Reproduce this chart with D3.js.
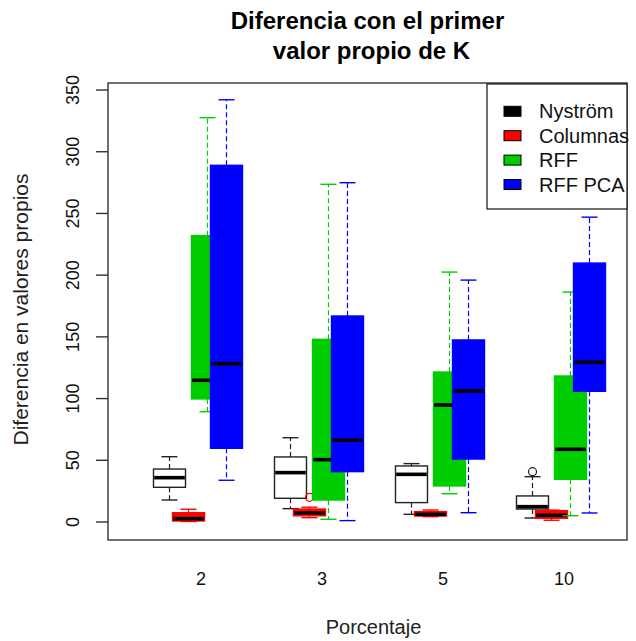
<!DOCTYPE html>
<html>
<head>
<meta charset="utf-8">
<script src="https://cdn.jsdelivr.net/npm/d3@7"></script>
<style>
  body { margin: 0; background: #fff; }
  svg { display: block; font-family: "Liberation Sans", Arial, sans-serif; }
</style>
</head>
<body>
<svg id="chart" width="636" height="641"></svg>
<script>
// Percentage groups on the x axis and the four methods compared in each
const groups = ["2", "3", "5", "10"];
const series = ["Nyström", "Columnas", "RFF", "RFF PCA"];

// Box summaries per group: [lower whisker, Q1, median, Q3, upper whisker]
const nystrom  = [[17.8, 28.1, 35.9, 42.9, 52.9], [10.8, 19.2, 40.0, 52.7, 68.3], [6.2, 15.7, 38.6, 45.4, 47.3], [3.2, 10.5, 12.4, 21.1, 36.7]];
const columnas = [[0.4, 0.8, 2.7, 7.5, 10.3], [3.5, 5.0, 7.3, 10.5, 12.0], [4.3, 4.9, 6.2, 8.4, 9.7], [1.4, 3.0, 5.4, 9.2, 9.6]];
const rff      = [[89.4, 99.7, 114.8, 232.0, 327.6], [2.2, 17.8, 50.5, 148.0, 273.6], [22.9, 29.2, 94.8, 121.5, 202.5], [5.1, 34.6, 58.9, 118.3, 186.3]];
const rffPca   = [[33.8, 59.7, 128.3, 289.0, 342.1], [1.1, 40.8, 66.2, 166.9, 274.9], [7.5, 51.0, 106.1, 147.5, 196.0], [7.3, 105.9, 129.4, 209.8, 247.0]];

// Outlying points per group
const outNystrom  = [[], [], [], [40.8]];
const outColumnas = [[], [20.0], [], []];
const outRff      = [[], [], [], []];
const outRffPca   = [[], [], [], []];

const yTicks = [0, 50, 100, 150, 200, 250, 300, 350];

const fills   = ["#ffffff", "#ff0000", "#00cd00", "#0000ff"];
const borders = ["#222222", "#ff0000", "#00cd00", "#0000ff"];
const legendFills = ["#000000", "#ff0000", "#00cd00", "#0000ff"];

const stats = [nystrom, columnas, rff, rffPca];
const outs  = [outNystrom, outColumnas, outRff, outRffPca];

const svg = d3.select("#chart");
const plot = { left: 108, right: 627, top: 83, bottom: 540 };

const y = d3.scaleLinear().domain([-14.6, 355.7]).range([plot.bottom, plot.top]);
const xGroup = d3.scalePoint().domain(groups).range([198, 561]);
const xInner = d3.scalePoint().domain(series).range([-28.5, 28.5]);
const boxW = 32, capW = 16;

// Boxes
const g = svg.append("g");
groups.forEach((grp, gi) => {
  series.forEach((s, si) => {
    const [lo, q1, med, q3, hi] = stats[si][gi];
    const cx = xGroup(grp) + xInner(s);
    const col = borders[si];
    const b = g.append("g");
    b.append("rect")
      .attr("x", cx - boxW / 2).attr("y", y(q3))
      .attr("width", boxW).attr("height", y(q1) - y(q3))
      .attr("fill", fills[si]).attr("stroke", col).attr("stroke-width", 1.4);
    // whiskers
    [[q3, hi], [q1, lo]].forEach(([a, c]) => {
      b.append("line")
        .attr("x1", cx).attr("x2", cx).attr("y1", y(a)).attr("y2", y(c))
        .attr("stroke", col).attr("stroke-width", 1.2).attr("stroke-dasharray", "5,3");
      b.append("line")
        .attr("x1", cx - capW / 2).attr("x2", cx + capW / 2).attr("y1", y(c)).attr("y2", y(c))
        .attr("stroke", col).attr("stroke-width", 1.4);
    });
    // median
    b.append("line")
      .attr("x1", cx - boxW / 2 + 0.7).attr("x2", cx + boxW / 2 - 0.7)
      .attr("y1", y(med)).attr("y2", y(med))
      .attr("stroke", "#000").attr("stroke-width", 3.6);
    // outliers
    outs[si][gi].forEach(v => {
      b.append("circle").attr("cx", cx).attr("cy", y(v)).attr("r", 4)
        .attr("fill", "none").attr("stroke", col).attr("stroke-width", 1.2);
    });
  });
});

// Frame
svg.append("rect")
  .attr("x", plot.left).attr("y", plot.top)
  .attr("width", plot.right - plot.left).attr("height", plot.bottom - plot.top)
  .attr("fill", "none").attr("stroke", "#333").attr("stroke-width", 1.4);

// Y axis: ticks and rotated labels
const yAxis = svg.append("g");
yTicks.forEach(t => {
  yAxis.append("line").attr("x1", 96).attr("x2", plot.left)
    .attr("y1", y(t)).attr("y2", y(t)).attr("stroke", "#333").attr("stroke-width", 1.4);
  yAxis.append("text")
    .attr("transform", `translate(79,${y(t)}) rotate(-90)`)
    .attr("text-anchor", "middle").attr("font-size", 18).attr("fill", "#111")
    .text(t);
});

// X axis labels (no tick marks)
groups.forEach(grp => {
  svg.append("text").attr("x", xGroup(grp) + 3).attr("y", 585)
    .attr("text-anchor", "middle").attr("font-size", 18).attr("fill", "#111")
    .text(grp);
});

// Axis titles
svg.append("text").attr("x", (plot.left + plot.right) / 2 + 6).attr("y", 634)
  .attr("text-anchor", "middle").attr("font-size", 20).attr("fill", "#222")
  .text("Porcentaje");
svg.append("text")
  .attr("transform", `translate(28,${(plot.top + plot.bottom) / 2 - 2}) rotate(-90)`)
  .attr("text-anchor", "middle").attr("font-size", 21).attr("fill", "#222")
  .text("Diferencia en valores propios");

// Title
const title = svg.append("text").attr("text-anchor", "middle")
  .attr("font-size", 24).attr("font-weight", "bold").attr("fill", "#000");
title.append("tspan").attr("x", (plot.left + plot.right) / 2).attr("y", 29).text("Diferencia con el primer");
title.append("tspan").attr("x", (plot.left + plot.right) / 2 + 4).attr("y", 59).text("valor propio de K");

// Legend
const lg = svg.append("g");
lg.append("rect").attr("x", 487).attr("y", 84).attr("width", 140).attr("height", 125)
  .attr("fill", "#fff").attr("stroke", "#111").attr("stroke-width", 1.2);
series.forEach((s, i) => {
  const cy = 111.3 + i * 24.4;
  lg.append("rect").attr("x", 504).attr("y", cy - 5).attr("width", 17).attr("height", 10)
    .attr("fill", legendFills[i]).attr("stroke", "#000").attr("stroke-width", 1);
  lg.append("text").attr("x", 539).attr("y", cy + 7).attr("font-size", 20).attr("fill", "#111").text(s);
});
</script>
</body>
</html>
